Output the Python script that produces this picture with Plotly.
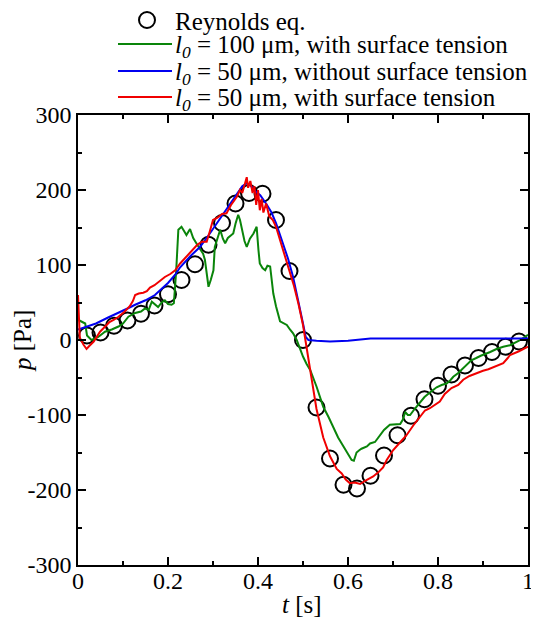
import plotly.graph_objects as go

# Reynolds equation (open circles)
t_rey = [0.02 + 0.03 * k for k in range(33)]
p_rey = [6, 10, 19, 26, 35, 46, 61, 80, 101, 127, 156, 182, 196, 195, 160, 92, 0,
         -90, -158, -193, -198, -181, -154, -127, -101, -79, -61, -46, -34, -24, -16, -9, -2]

# l0 = 100 um, with surface tension (green)
t_g100 = [0.000, 0.008, 0.016, 0.020, 0.030, 0.045, 0.060, 0.075, 0.090, 0.100,
          0.112, 0.127, 0.140, 0.149, 0.157, 0.164, 0.171, 0.178, 0.186, 0.193,
          0.200, 0.208, 0.213, 0.218, 0.223, 0.230, 0.235, 0.241, 0.249, 0.256,
          0.264, 0.271, 0.278, 0.282, 0.287, 0.290, 0.295, 0.301, 0.304, 0.310,
          0.316, 0.322, 0.327, 0.333, 0.338, 0.345, 0.350, 0.356, 0.360, 0.364,
          0.370, 0.375, 0.382, 0.390, 0.397, 0.401, 0.404, 0.410, 0.416, 0.421,
          0.427, 0.434, 0.440, 0.449, 0.456, 0.464, 0.471, 0.478, 0.486, 0.493,
          0.500, 0.508, 0.516, 0.530, 0.545, 0.557, 0.567, 0.578, 0.590, 0.600,
          0.608, 0.613, 0.619, 0.625, 0.630, 0.642, 0.649, 0.660, 0.670, 0.680,
          0.693, 0.705, 0.716, 0.722, 0.727, 0.733, 0.738, 0.748, 0.760, 0.770,
          0.782, 0.790, 0.797, 0.808, 0.819, 0.827, 0.834, 0.845, 0.856, 0.865,
          0.874, 0.885, 0.895, 0.916, 0.930, 0.945, 0.960, 0.980, 1.000]
p_g100 = [27, 24, 22, 6, 0, 4, 11, 14, 18, 22,
          31, 36, 38, 42, 40, 51, 47, 44, 50, 53,
          48, 47, 49, 90, 147, 151, 146, 140, 148, 136,
          128, 122, 115, 107, 85, 71, 80, 93, 124, 135,
          147, 135, 129, 136, 138, 142, 155, 167, 160, 147,
          132, 124, 135, 142, 151, 120, 102, 96, 93, 99,
          98, 62, 45, 25, 23, 20, 14, 9, 0, -12,
          -22, -32, -40, -62, -89, -103, -116, -130, -142, -152,
          -160, -161, -150, -147, -145, -142, -138, -136, -128, -120,
          -113, -112, -112, -106, -96, -100, -100, -92, -84, -76,
          -70, -66, -63, -60, -58, -54, -49, -44, -38, -32,
          -27, -24, -21, -16, -12, -9, -7, -1, 7]

# l0 = 50 um, without surface tension (blue)
t_b50 = [0.000, 0.020, 0.040, 0.067, 0.090, 0.110, 0.127, 0.150, 0.171, 0.182,
         0.200, 0.216, 0.227, 0.250, 0.271, 0.293, 0.310, 0.323, 0.340, 0.353,
         0.365, 0.375, 0.382, 0.395, 0.405, 0.420, 0.430, 0.440, 0.456, 0.467,
         0.478, 0.490, 0.500, 0.506, 0.512, 0.530, 0.560, 0.600, 0.650, 0.700,
         0.800, 0.900, 1.000]
p_b50 = [14, 18, 22, 30, 36, 42, 47, 53, 60, 66,
         76, 87, 97, 112, 124, 142, 157, 169, 184, 196,
         205, 209, 207, 198, 193, 180, 170, 156, 129, 108,
         84, 52, 22, 4, 0, -1, -2, -1, 2, 2,
         2, 2, 2]

# l0 = 50 um, with surface tension (red)
t_r50 = [0.000, 0.002, 0.004, 0.012, 0.019, 0.025, 0.035, 0.049, 0.060, 0.070,
         0.080, 0.090, 0.104, 0.115, 0.122, 0.127, 0.135, 0.145, 0.153, 0.160,
         0.170, 0.180, 0.193, 0.205, 0.216, 0.227, 0.240, 0.256, 0.265, 0.275,
         0.286, 0.293, 0.300, 0.310, 0.320, 0.330, 0.340, 0.353, 0.360, 0.365,
         0.370, 0.375, 0.378, 0.383, 0.388, 0.392, 0.396, 0.400, 0.404, 0.408,
         0.412, 0.418, 0.425, 0.433, 0.440, 0.448, 0.456, 0.464, 0.471, 0.480,
         0.490, 0.500, 0.516, 0.530, 0.545, 0.560, 0.575, 0.586, 0.595, 0.604,
         0.615, 0.627, 0.640, 0.656, 0.668, 0.678, 0.686, 0.700, 0.715, 0.730,
         0.745, 0.760, 0.771, 0.782, 0.795, 0.804, 0.815, 0.830, 0.845, 0.856,
         0.870, 0.885, 0.900, 0.912, 0.925, 0.945, 0.955, 0.960, 0.980, 1.000]
p_r50 = [60, 30, 3, -6, -12, -8, -2, 11, 18, 24,
         27, 31, 38, 45, 52, 60, 62, 63, 65, 70,
         73, 78, 84, 88, 93, 102, 111, 122, 127, 131,
         131, 145, 160, 163, 168, 169, 180, 191, 200, 196,
         205, 217, 203, 212, 196, 205, 180, 200, 173, 188,
         170, 182, 165, 160, 151, 135, 120, 103, 89, 72,
         48, 20, -40, -92, -130, -155, -172, -178, -186, -191,
         -190, -192, -187, -182, -176, -170, -160, -147, -137, -127,
         -114, -102, -94, -91, -86, -82, -72, -64, -60, -53,
         -48, -44, -41, -39, -36, -31, -24, -20, -15, -9]

x_ticks = [0, 0.2, 0.4, 0.6, 0.8, 1]
x_ticktext = ["0", "0.2", "0.4", "0.6", "0.8", "1"]
y_ticks = [-300, -200, -100, 0, 100, 200, 300]
y_ticktext = ["-300", "-200", "-100", "0", "100", "200", "300"]

names = ["Reynolds eq.",
         "<i>l<sub>0</sub></i> = 100 μm, with surface tension",
         "<i>l<sub>0</sub></i> = 50 μm, without surface tension",
         "<i>l<sub>0</sub></i> = 50 μm, with surface tension"]
colors = ["black", "#0a850a", "#0000f0", "#f00000"]

font = "Liberation Serif"

fig = go.Figure()
fig.add_trace(go.Scatter(
    x=t_rey, y=p_rey, mode="markers", name=names[0], showlegend=False,
    marker=dict(symbol="circle-open", size=16, color="black", line=dict(width=2)),
))
for tx, py, nm, col in [(t_g100, p_g100, names[1], colors[1]),
                        (t_b50, p_b50, names[2], colors[2]),
                        (t_r50, p_r50, names[3], colors[3])]:
    fig.add_trace(go.Scatter(x=tx, y=py, mode="lines", name=nm, showlegend=False,
                             line=dict(color=col, width=2)))

axis_common = dict(
    showline=True, linecolor="black", linewidth=1.5, mirror="allticks",
    ticks="inside", ticklen=8, tickwidth=1.5, tickcolor="black",
    showgrid=False, zeroline=False, automargin=False,
    tickfont=dict(family=font, size=24, color="black"),
)

fig.update_xaxes(
    range=[0, 1], tickvals=x_ticks, ticktext=x_ticktext, ticklabelstandoff=-7,
    minor=dict(dtick=0.1, ticks="inside", ticklen=4, tickcolor="black", tickwidth=1.5),
    **axis_common,
)
fig.update_yaxes(
    range=[-300, 300], tickvals=y_ticks, ticktext=y_ticktext,
    minor=dict(dtick=50, ticks="inside", ticklen=4, tickcolor="black", tickwidth=1.5),
    **axis_common,
)

# positions below are given in page pixels and turned into paper coordinates
# (plot area spans x 78..528, y 115..565 on the page)
def px_x(p):
    return (p - 78) / 450.0

def px_y(p):
    return (565 - p) / 450.0

# axis titles
fig.add_annotation(xref="paper", yref="paper", x=px_x(302), y=px_y(604),
                   xanchor="center", yanchor="middle", showarrow=False,
                   text="<i>t</i> [s]", font=dict(family=font, size=25, color="black"))
fig.add_annotation(xref="paper", yref="paper", x=px_x(22), y=px_y(341),
                   xanchor="center", yanchor="middle", showarrow=False, textangle=-90,
                   text="<i>p</i> [Pa]", font=dict(family=font, size=25, color="black"))

# legend above the plot
row_y = [20, 44, 71, 97]
fig.add_shape(type="circle", xref="paper", yref="paper",
              x0=px_x(139), x1=px_x(155), y0=px_y(28), y1=px_y(12),
              line=dict(color="black", width=2))
for yy, col in zip(row_y[1:], colors[1:]):
    fig.add_shape(type="line", xref="paper", yref="paper",
                  x0=px_x(118), x1=px_x(172), y0=px_y(yy), y1=px_y(yy),
                  line=dict(color=col, width=2))
for yy, nm in zip(row_y, names):
    fig.add_annotation(xref="paper", yref="paper", x=px_x(173), y=px_y(yy + 2),
                       xanchor="left", yanchor="middle", showarrow=False, text=nm,
                       font=dict(family=font, size=25, color="black"))

# the page adds an 8 px body margin, so the figure is 8 px smaller and shifted
fig.update_layout(
    width=531, height=616,
    margin=dict(l=70, r=11, t=107, b=59, autoexpand=False),
    paper_bgcolor="white", plot_bgcolor="white",
    font=dict(family=font, color="black"),
    showlegend=False,
)

fig.write_html("out.html")
